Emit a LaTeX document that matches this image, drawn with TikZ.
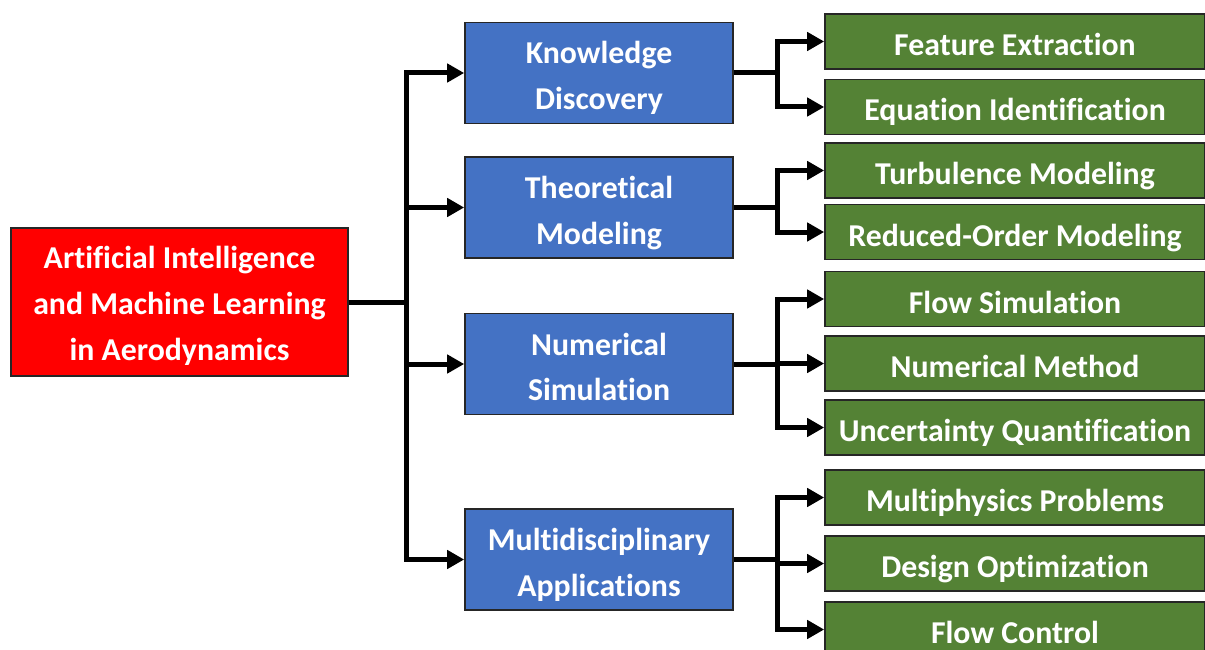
\documentclass[tikz,border=0pt]{standalone}
\usepackage{fontspec}
\setmainfont{Carlito}[Ligatures=NoCommon]
\usetikzlibrary{arrows.meta}
\definecolor{redbox}{HTML}{FF0000}
\definecolor{bluebox}{HTML}{4472C4}
\definecolor{greenbox}{HTML}{548235}
% text block whose first baseline sits #1 above the node centre
\newcommand\boxlines[2]{\raisebox{#1}[0pt][0pt]{\begin{tabular}[t]{@{}c@{}}#2\end{tabular}}}
\begin{document}
\begin{tikzpicture}[x=1pt,y=-1pt,
  box/.style={draw=black!85, line width=1.6pt, text=white, inner sep=0pt},
  rootbox/.style={box, fill=redbox, minimum width=337pt, minimum height=148pt,
    font=\fontsize{31.8}{46.3}\selectfont\bfseries},
  midbox/.style={box, fill=bluebox, minimum width=268pt, minimum height=101pt,
    font=\fontsize{31.8}{45.5}\selectfont\bfseries},
  leafbox/.style={box, fill=greenbox, minimum width=380pt, minimum height=55pt,
    font=\fontsize{31.8}{40}\selectfont\bfseries},
  arr/.style={line width=5pt, line join=miter, -{Triangle[length=17pt,width=18pt]}}
]
\clip (0,0) rectangle (1205,650);
\fill[white] (0,0) rectangle (1205,650);

\node[rootbox] (root) at (179.5,302) {\boxlines{33.7pt}{Artificial Intelligence\\and Machine Learning\\in Aerodynamics}};

\node[midbox] (kd) at (599,73) {\boxlines{9pt}{Knowledge\\Discovery}};
\node[midbox] (tm) at (599,207.5) {\boxlines{9pt}{Theoretical\\Modeling}};
\node[midbox] (ns) at (599,364) {\boxlines{9pt}{Numerical\\Simulation}};
\node[midbox] (ma) at (599,559.5) {\boxlines{9pt}{Multidisciplinary\\Applications}};

\node[leafbox] (fe) at (1015,41.5) {\boxlines{-14pt}{Feature Extraction}};
\node[leafbox] (ei) at (1015,107) {\boxlines{-14pt}{Equation Identification}};
\node[leafbox] (tu) at (1015,170.5) {\boxlines{-14pt}{Turbulence Modeling}};
\node[leafbox] (ro) at (1015,232) {\boxlines{-14pt}{Reduced-Order Modeling}};
\node[leafbox] (fs) at (1015,299) {\boxlines{-14pt}{Flow Simulation}};
\node[leafbox] (nm) at (1015,363.5) {\boxlines{-14pt}{Numerical Method}};
\node[leafbox] (uq) at (1015,427.5) {\boxlines{-14pt}{Uncertainty Quantification}};
\node[leafbox] (mp) at (1015,497.5) {\boxlines{-14pt}{Multiphysics Problems}};
\node[leafbox] (do) at (1015,563.5) {\boxlines{-14pt}{Design Optimization}};
\node[leafbox] (fc) at (1015,629.5) {\boxlines{-14pt}{Flow Control}};

\foreach \t in {kd,tm,ns,ma}
  \draw[arr] (root.east) -- ++(58,0) |- (\t.west);

\foreach \t in {fe,ei} \draw[arr] (kd.east) -- ++(44,0) |- (\t.west);
\foreach \t in {tu,ro} \draw[arr] (tm.east) -- ++(44,0) |- (\t.west);
\foreach \t in {fs,nm,uq} \draw[arr] (ns.east) -- ++(44,0) |- (\t.west);
\foreach \t in {mp,do,fc} \draw[arr] (ma.east) -- ++(44,0) |- (\t.west);
\end{tikzpicture}
\end{document}
